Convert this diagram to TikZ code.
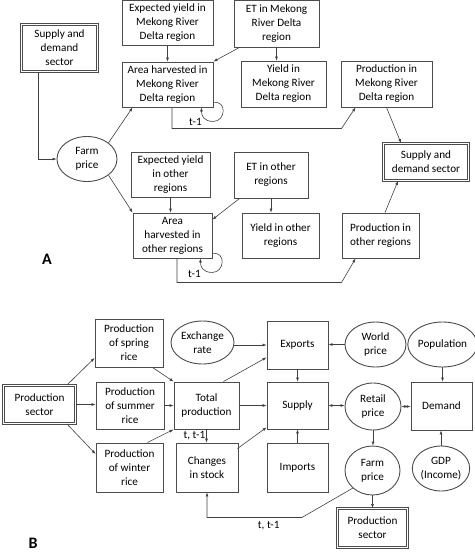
\documentclass[tikz,border=0pt]{standalone}
\usepackage{fontspec}
\setmainfont{Carlito}
\usetikzlibrary{calc}
\usetikzlibrary{arrows.meta}
\usetikzlibrary{shapes.geometric}
\tikzset{>={Latex[length=4pt,width=3pt]}}
\tikzstyle{box} = [rectangle, draw=black!70, line width=0.9pt, align=center, inner sep=1pt, text=black]
\tikzstyle{oval} = [ellipse, draw=black!70, line width=0.9pt, align=center, inner sep=0pt, text=black]
\tikzstyle{sector} = [box, double, double distance=1.4pt]
\tikzstyle{link} = [->, draw=black!75, line width=0.6pt]
\tikzstyle{panel} = [font=\fontsize{16}{18}\selectfont\bfseries, text=black]

\begin{document}
\begin{tikzpicture}[x=1pt, y=-1pt, font=\fontsize{11.2}{14}\selectfont]
\useasboundingbox (0,0) rectangle (474,554);
% A
\node [box, minimum width=91pt, minimum height=45pt] (EYM) at (167.5, 22.5) {Expected yield in\\Mekong River\\Delta region};
\node [box, minimum width=85pt, minimum height=47pt] (ETM) at (276.5, 23.5) {ET in Mekong\\River Delta\\region};
\node [sector, minimum width=76pt, minimum height=47pt] (SDL) at (59.5, 48) {Supply and\\demand\\sector};
\node [box, minimum width=91pt, minimum height=45pt] (AHM) at (167.5, 84.5) {Area harvested in\\Mekong River\\Delta region};
\node [box, minimum width=85pt, minimum height=46pt] (YM) at (283.5, 84) {Yield in\\Mekong River\\Delta region};
\node [box, minimum width=91pt, minimum height=46pt] (PM) at (386.5, 84) {Production in\\Mekong River\\Delta region};
\node [oval, minimum width=60pt, minimum height=45pt] (FPA) at (87, 159) {Farm\\price};
\node [box, minimum width=79pt, minimum height=45pt] (EYO) at (170.5, 174.5) {Expected yield\\in other\\regions};
\node [box, minimum width=74pt, minimum height=46pt] (ETO) at (271, 175) {ET in other\\regions};
\node [sector, minimum width=85pt, minimum height=37pt] (SDR) at (426, 162) {Supply and\\demand sector};
\node [box, minimum width=79pt, minimum height=45pt] (AHO) at (172.5, 235.5) {Area\\harvested in\\other regions};
\node [box, minimum width=77pt, minimum height=45pt] (YO) at (280.5, 235.5) {Yield in other\\regions};
\node [box, minimum width=77pt, minimum height=45pt] (PO) at (380.5, 235.5) {Production in\\other regions};
\node [panel] (LA) at (47, 259) {A};

\draw [link] (EYM) -- (AHM);
\draw [link] ($(ETM.south west)+(6,0)$) -- (AHM.north east);
\draw [link] (ETM.south) -- (ETM.south |- YM.north);
\draw [link] ($(SDL.south)+(-21,0)$) |- (FPA.west);
\draw [link] (FPA.north east) -- ($(AHM.south west)+(11,0)$);
\draw [link] (FPA.south east) -- (AHO.north west);
\draw [link] ($(AHM.south east)+(0,-5)$) .. controls +(14,-2) and +(12,0) .. ($(AHM.south east)+(0,14)$) .. controls +(-10,0) and +(0,8) .. ($(AHM.south east)+(-12,0)$);
\node [inner sep=0] (TA1) at ($(AHM.south east)+(-18,14)$) {t-1};
\draw [link] ($(AHM.south)+(4.5,0)$) |- ($(PM.south west)+(1,21)$) -- ($(PM.south west)+(15,0)$);
\draw [link] (PM.south) -- ($(SDR.north)+(-25,0)$);
\draw [link] (EYO.south) -- (EYO.south |- AHO.north);
\draw [link] ($(ETO.south west)+(6,0)$) -- ($(AHO.north east)+(0,7)$);
\draw [link] (ETO.south) -- (ETO.south |- YO.north);
\draw [link] ($(AHO.south east)+(0,-5)$) .. controls +(14,-2) and +(12,0) .. ($(AHO.south east)+(0,14)$) .. controls +(-10,0) and +(0,8) .. ($(AHO.south east)+(-12,0)$);
\node [inner sep=0] (TA2) at ($(AHO.south east)+(-18,15)$) {t-1};
\draw [link] ($(AHO.south)+(4.5,0)$) |- ($(PO.south west)+(0,24)$) -- ($(PO.south west)+(14,0)$);
\draw [link] ($(PO.north)+(4.5,0)$) -- ($(SDR.south)+(-28,0)$);

% B
\node [sector, minimum width=72pt, minimum height=38pt] (PS) at (39.5, 404.5) {Production\\sector};
\node [box, minimum width=68pt, minimum height=48pt] (PSP) at (129, 343) {Production\\of spring\\rice};
\node [box, minimum width=68pt, minimum height=47pt] (PSU) at (130, 405.5) {Production\\of summer\\rice};
\node [box, minimum width=67pt, minimum height=49pt] (PWI) at (129.5, 467.5) {Production\\of winter\\rice};
\node [oval, minimum width=63pt, minimum height=43pt] (ER) at (202.5, 342.5) {Exchange\\rate};
\node [box, minimum width=65pt, minimum height=47pt] (TP) at (206.5, 405.5) {Total\\production};
\node [box, minimum width=61pt, minimum height=48pt] (EX) at (297.5, 345) {Exports};
\node [oval, minimum width=61pt, minimum height=45pt] (WP) at (375.5, 344.5) {World\\price};
\node [oval, minimum width=59pt, minimum height=45pt] (POP) at (442.5, 344.5) {Population};
\node [box, minimum width=61pt, minimum height=47pt] (SU) at (297.5, 405.5) {Supply};
\node [oval, minimum width=56pt, minimum height=47pt] (RP) at (373, 406.5) {Retail\\price};
\node [box, minimum width=61pt, minimum height=48pt] (DE) at (441.5, 406) {Demand};
\node [box, minimum width=62pt, minimum height=49pt] (CS) at (207, 467.5) {Changes\\in stock};
\node [box, minimum width=61pt, minimum height=49pt] (IM) at (297.5, 467.5) {Imports};
\node [oval, minimum width=55pt, minimum height=49pt] (FPB) at (372.5, 470.5) {Farm\\price};
\node [oval, minimum width=56pt, minimum height=45pt] (GDP) at (441, 468.5) {GDP\\(Income)};
\node [sector, minimum width=70pt, minimum height=39pt] (PSB) at (372.5, 528) {Production\\sector};
\node [panel] (LB) at (33, 543) {B};

\draw [link] ($(PS.north east)+(-9,0)$) -- ($(PSP.west)+(0,15)$);
\draw [link] (PS.east) -- (PS.east -| PSU.west);
\draw [link] ($(PS.south east)+(-9,0)$) -- ($(PWI.west)+(0,-13.5)$);
\draw [link] ($(PSP.south east)+(-11,0)$) -- (TP.north west);
\draw [link] (PSU.east) -- (PSU.east -| TP.west);
\draw [link] ($(PWI.north east)+(-16,0)$) -- (TP.south west);
\draw [link] (EX.west -| ER.east) -- (EX.west);
\draw [link] ($(TP.north east)+(-16,0)$) -- ($(EX.south west)+(0,-12)$);
\draw [link] (TP.east) -- (TP.east -| SU.west);
\draw [link] (TP.south) -- node [left, inner sep=1pt] {t, t-1} (TP.south |- CS.north);
\draw [link] ($(CS.north east)+(-1,6)$) -- ($(SU.south west)+(0,-2)$);
\draw [link] (WP.west) -- (WP.west -| EX.east);
\draw [link] (EX) -- (SU);
\draw [link] (IM) -- (SU);
\draw [link, <->] (SU.east) -- (SU.east -| RP.west);
\draw [link, <->] (RP.east) -- (RP.east -| DE.west);
\draw [link] (POP.south) -- (POP.south |- DE.north);
\draw [link] (GDP.north) -- (GDP.north |- DE.south);
\draw [link] (RP.south) -- (RP.south |- FPB.north);
\draw [link] (FPB) -- (PSB);
\draw [link] (FPB.south west) -- ($(CS.south)+(95,25)$) -- node [pos=0.35, below] {t, t-1} ($(CS.south)+(0,25)$) -- (CS.south);
\end{tikzpicture}
\end{document}
